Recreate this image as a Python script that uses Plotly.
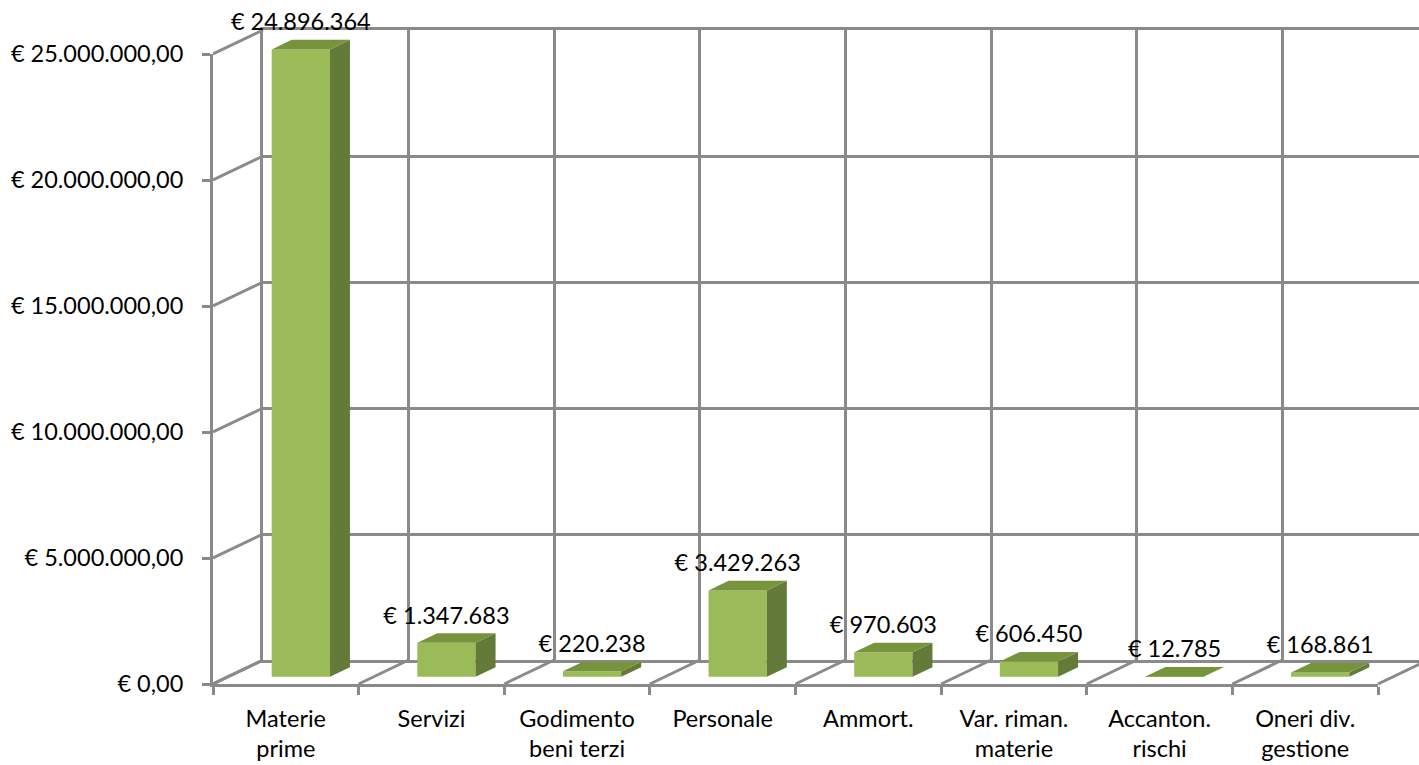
import plotly.graph_objects as go

# ---------------- data ----------------
categories = ["Materie<br>prime", "Servizi", "Godimento<br>beni terzi", "Personale",
              "Ammort.", "Var. riman.<br>materie", "Accanton.<br>rischi", "Oneri div.<br>gestione"]
values = [24896364, 1347683, 220238, 3429263, 970603, 606450, 12785, 168861]
y_ticks = [0, 5000000, 10000000, 15000000, 20000000, 25000000]

# ---------------- geometry (layout, in pixels) ----------------
W, H = 1419, 765
PX0, PY0 = 213, 684          # front-left-bottom corner of the floor
N = len(values)
CW = 1165 / N                # category width, px
YMAX = y_ticks[-1]
VPX = 630 / YMAX             # px per value unit
DXP, DYP = 50, 24            # full depth offset, px
DX = DXP / CW                # depth offset in category units
DY = DYP / VPX               # depth offset in value units
D0, D1 = 0.30, 0.70          # bar depth span (fraction of full depth)
BW = 0.40                    # bar width, category units

GRID = "#8a8a8a"
GW = 3
FRONT, TOP, SIDE = "#9BBB59", "#77933C", "#647A38"
FONT = "Lato"
FS = 23.5


def it_int(v):
    return "€ " + f"{v:,}".replace(",", ".")


def it_dec(v):
    s = f"{v:,.2f}"
    return "€ " + s.replace(",", "X").replace(".", ",").replace("X", ".")


fig = go.Figure()

# dummy traces so every subplot exists
fig.add_trace(go.Scatter(x=[None], y=[None], xaxis="x", yaxis="y", showlegend=False, hoverinfo="skip"))

# ---- canvas (x2/y2): floor + wall diagonals, bars, labels ----
dx_, dy_ = [], []
for k in range(N + 1):
    dx_ += [k, k + DX, None]
    dy_ += [0, DY, None]
for t in y_ticks:
    dx_ += [0, DX, None]
    dy_ += [t, t + DY, None]
fig.add_trace(go.Scatter(x=dx_, y=dy_, mode="lines", line=dict(color=GRID, width=GW),
                         xaxis="x2", yaxis="y2", showlegend=False, hoverinfo="skip"))

xc = [i + 0.5 + D0 * DX for i in range(N)]
base = D0 * DY
ddx, ddy = (D1 - D0) * DX, (D1 - D0) * DY
for i, v in enumerate(values):
    xl, xr = xc[i] - BW / 2, xc[i] + BW / 2
    top = base + v
    # side face
    fig.add_trace(go.Scatter(x=[xr, xr, xr + ddx, xr + ddx, xr], y=[base, top, top + ddy, base + ddy, base],
                             fill="toself", fillcolor=SIDE, mode="lines", line=dict(width=0, color=SIDE),
                             xaxis="x2", yaxis="y2", showlegend=False, hoverinfo="skip"))
    # top face
    fig.add_trace(go.Scatter(x=[xl, xr, xr + ddx, xl + ddx, xl], y=[top, top, top + ddy, top + ddy, top],
                             fill="toself", fillcolor=TOP, mode="lines", line=dict(width=0, color=TOP),
                             xaxis="x2", yaxis="y2", showlegend=False, hoverinfo="skip"))

fig.add_trace(go.Bar(x=xc, y=values, base=[base] * N, width=BW, marker=dict(color=FRONT, line=dict(width=0)),
                     xaxis="x2", yaxis="y2", showlegend=False, hoverinfo="skip"))

fig.add_trace(go.Scatter(x=xc, y=[base + v + 25 / VPX for v in values], mode="text",
                         text=[it_int(v) for v in values], textposition="middle center",
                         textfont=dict(family=FONT, size=FS, color="black"), cliponaxis=False,
                         xaxis="x2", yaxis="y2", showlegend=False, hoverinfo="skip"))

# front frame dummies
fig.add_trace(go.Scatter(x=[None], y=[None], xaxis="x3", yaxis="y3", showlegend=False, hoverinfo="skip"))
fig.add_trace(go.Scatter(x=[None], y=[None], xaxis="x4", yaxis="y3", showlegend=False, hoverinfo="skip"))

fig.update_layout(
    width=W, height=H, autosize=False,
    margin=dict(l=0, r=0, t=0, b=0, pad=0, autoexpand=False),
    paper_bgcolor="white", plot_bgcolor="rgba(0,0,0,0)",
    font=dict(family=FONT, size=FS, color="black"),
    showlegend=False,
    # back wall
    xaxis=dict(domain=[(PX0 + DXP) / W, 1], range=[0, (W - PX0 - DXP) / CW], dtick=1, tick0=0,
               showgrid=True, gridcolor=GRID, gridwidth=GW, showline=True, linecolor=GRID, linewidth=GW,
               mirror=True, showticklabels=False, ticks="", zeroline=False, anchor="y", fixedrange=True,
               automargin=False),
    yaxis=dict(domain=[(H - PY0 + DYP) / H, (H - PY0 + DYP + YMAX * VPX) / H], range=[0, YMAX],
               tickvals=y_ticks, showgrid=True, gridcolor=GRID, gridwidth=GW, showline=True,
               linecolor=GRID, linewidth=GW, showticklabels=False, ticks="", zeroline=False,
               anchor="x", fixedrange=True, automargin=False),
    # canvas
    xaxis2=dict(domain=[PX0 / W, 1], range=[0, (W - PX0) / CW], visible=False, anchor="y2",
                fixedrange=True, automargin=False),
    yaxis2=dict(domain=[0, 1], range=[(PY0 - H) / VPX, PY0 / VPX], visible=False, anchor="x2",
                fixedrange=True, automargin=False),
    # front frame
    xaxis3=dict(domain=[PX0 / W, (PX0 + N * CW) / W], range=[0, N], tickvals=list(range(N + 1)),
                showticklabels=False, ticks="outside", ticklen=8, tickwidth=GW, tickcolor=GRID,
                showline=True, linecolor=GRID, linewidth=GW, showgrid=False, zeroline=False,
                anchor="y3", fixedrange=True, automargin=False),
    yaxis3=dict(domain=[(H - PY0) / H, (H - PY0 + YMAX * VPX) / H], range=[0, YMAX], tickvals=y_ticks,
                ticktext=[it_dec(t) for t in y_ticks], ticks="outside", ticklen=8, tickwidth=GW,
                tickcolor=GRID, showline=True, linecolor=GRID, linewidth=GW, showgrid=False,
                zeroline=False, ticklabelstandoff=14, anchor="x3", fixedrange=True, automargin=False,
                tickfont=dict(family=FONT, size=FS, color="black")),
    xaxis4=dict(overlaying="x3", anchor="y3", range=[0, N], tickvals=[i + 0.5 for i in range(N)],
                ticktext=categories, ticks="", showline=False, showgrid=False, zeroline=False,
                ticklabelstandoff=18, fixedrange=True, automargin=False,
                tickfont=dict(family=FONT, size=FS, color="black")),
)

fig.write_html("out.html", config={"displayModeBar": False})
